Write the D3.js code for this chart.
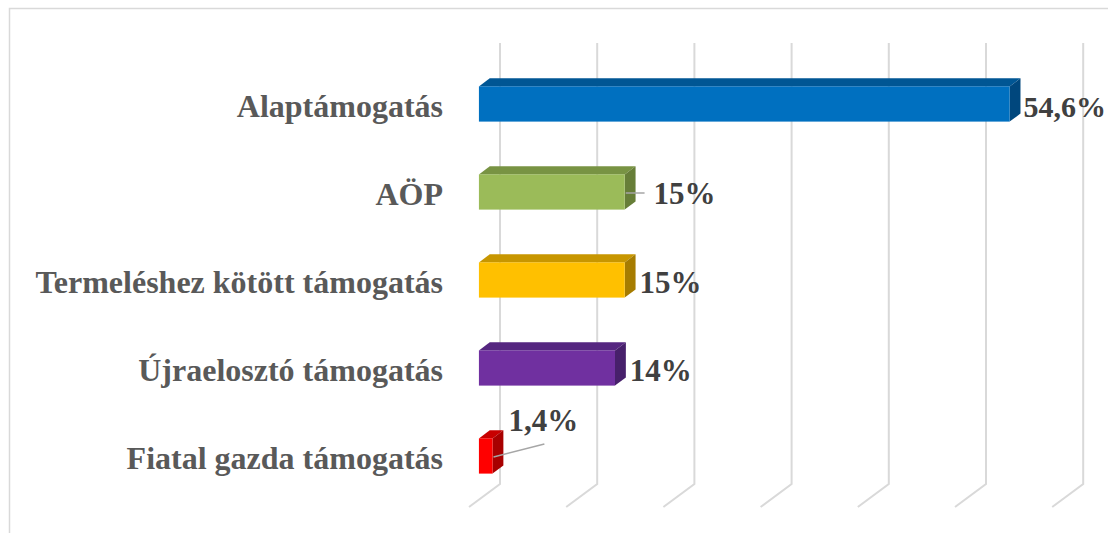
<!DOCTYPE html>
<html>
<head>
<meta charset="utf-8">
<script src="https://cdn.jsdelivr.net/npm/d3@7"></script>
<style>
  body { margin: 0; background: #fff; }
  svg { display: block; }
  .cat { font-family: "Liberation Serif", "Times New Roman", serif; font-weight: bold; font-size: 32px; fill: #595959; }
  .val { font-family: "Liberation Serif", "Times New Roman", serif; font-weight: bold; font-size: 31px; fill: #404040; }
</style>
</head>
<body>
<div id="chart"></div>
<script>
// data
var categories = ['Alaptámogatás', 'AÖP', 'Termeléshez kötött támogatás', 'Újraelosztó támogatás', 'Fiatal gazda támogatás'];
var values = [54.6, 15, 15, 14, 1.4];
var valueLabels = ['54,6%', '15%', '15%', '14%', '1,4%'];
var xTicks = [0, 10, 20, 30, 40, 50, 60];

// colours: front, top, side
var frontColors = ['#0070C0', '#9BBB59', '#FFC000', '#7030A0', '#FF0000'];
var topColors = ['#005694', '#789343', '#C79600', '#552680', '#C80000'];
var sideColors = ['#00477D', '#677E38', '#A67C00', '#47206B', '#A80000'];

var width = 1108, height = 533;
var svg = d3.select('#chart').append('svg')
    .attr('width', width)
    .attr('height', height);

// chart area border
svg.append('path')
    .attr('d', 'M9.5,' + height + 'V8.5H' + width)
    .attr('fill', 'none')
    .attr('stroke', '#D9D9D9')
    .attr('stroke-width', 1.5);

// 3d box: depth vector from floor front edge to back wall
var DEPTH_DX = 31, DEPTH_DY = -23;
var BAR_D0 = 0.32, BAR_D1 = 0.67;

// x scale at floor front edge (depth 0)
var x = d3.scaleLinear().domain([0, 60]).range([469, 469 + 583.2]);
// y band at the bar front face depth
var y = d3.scaleBand().domain(categories).range([60, 500])
    .paddingInner(0.6).paddingOuter(0.3);

function px(v, d) { return x(v) + d * DEPTH_DX; }

var wallTop = 43, wallBottom = 484;

// gridlines on back wall + floor
var grid = svg.append('g').attr('class', 'grid');
grid.selectAll('path')
    .data(xTicks)
    .enter().append('path')
    .attr('d', function(t) {
        var bx = px(t, 1), fx = px(t, 0);
        return 'M' + bx + ',' + wallTop + 'V' + wallBottom +
            'L' + fx + ',' + (wallBottom - DEPTH_DY);
    })
    .attr('fill', 'none')
    .attr('stroke', '#D9D9D9')
    .attr('stroke-width', 2);

// bars
var ddx = (BAR_D1 - BAR_D0) * DEPTH_DX, ddy = (BAR_D1 - BAR_D0) * DEPTH_DY;
var bars = svg.append('g').attr('class', 'bars')
    .selectAll('g')
    .data(categories)
    .enter().append('g');

bars.each(function(c, i) {
    var g = d3.select(this);
    var x0 = px(0, BAR_D0), x1 = px(values[i], BAR_D0);
    var y0 = y(c), y1 = y(c) + y.bandwidth();
    // top face
    g.append('path')
        .attr('d', 'M' + x0 + ',' + y0 + 'L' + (x0 + ddx) + ',' + (y0 + ddy) +
            'L' + (x1 + ddx) + ',' + (y0 + ddy) + 'L' + x1 + ',' + y0 + 'Z')
        .attr('fill', topColors[i]);
    // side face
    g.append('path')
        .attr('d', 'M' + x1 + ',' + y0 + 'L' + (x1 + ddx) + ',' + (y0 + ddy) +
            'L' + (x1 + ddx) + ',' + (y1 + ddy) + 'L' + x1 + ',' + y1 + 'Z')
        .attr('fill', sideColors[i]);
    // front face
    g.append('rect')
        .attr('x', x0)
        .attr('y', y0)
        .attr('width', x1 - x0)
        .attr('height', y1 - y0)
        .attr('fill', frontColors[i]);
});

// category labels
svg.append('g')
    .selectAll('text')
    .data(categories)
    .enter().append('text')
    .attr('class', 'cat')
    .attr('x', 443)
    .attr('y', function(c) { return y(c) + y.bandwidth() / 2; })
    .attr('dy', '0.4em')
    .attr('text-anchor', 'end')
    .text(function(c) { return c; });

// value labels; two were dragged off the bar, with a leader line
var labelMoves = { 0: [-1, 0], 1: [14, -1], 4: [1, -38] };
var vl = svg.append('g');
categories.forEach(function(c, i) {
    var cy = y(c) + y.bandwidth() / 2;
    var endX = px(values[i], BAR_D0) + ddx;
    var lx = endX + 4, ly = cy + 13;
    var mv = labelMoves[i];
    if (mv) {
        lx += mv[0];
        ly += mv[1];
    }
    if (i === 1 || i === 4) {
        var ax = px(values[i], BAR_D0) + 1;
        var x2 = i === 1 ? lx - 9 : lx + 36;
        var y2 = i === 1 ? cy + 1 : ly + 13;
        vl.append('line')
            .attr('x1', ax).attr('y1', cy + 1)
            .attr('x2', x2).attr('y2', y2)
            .attr('stroke', '#A6A6A6')
            .attr('stroke-width', 1.5);
    }
    vl.append('text')
        .attr('class', 'val')
        .attr('x', lx)
        .attr('y', ly)
        .style('font-size', i === 0 ? '30px' : null)
        .text(valueLabels[i]);
});
</script>
</body>
</html>
